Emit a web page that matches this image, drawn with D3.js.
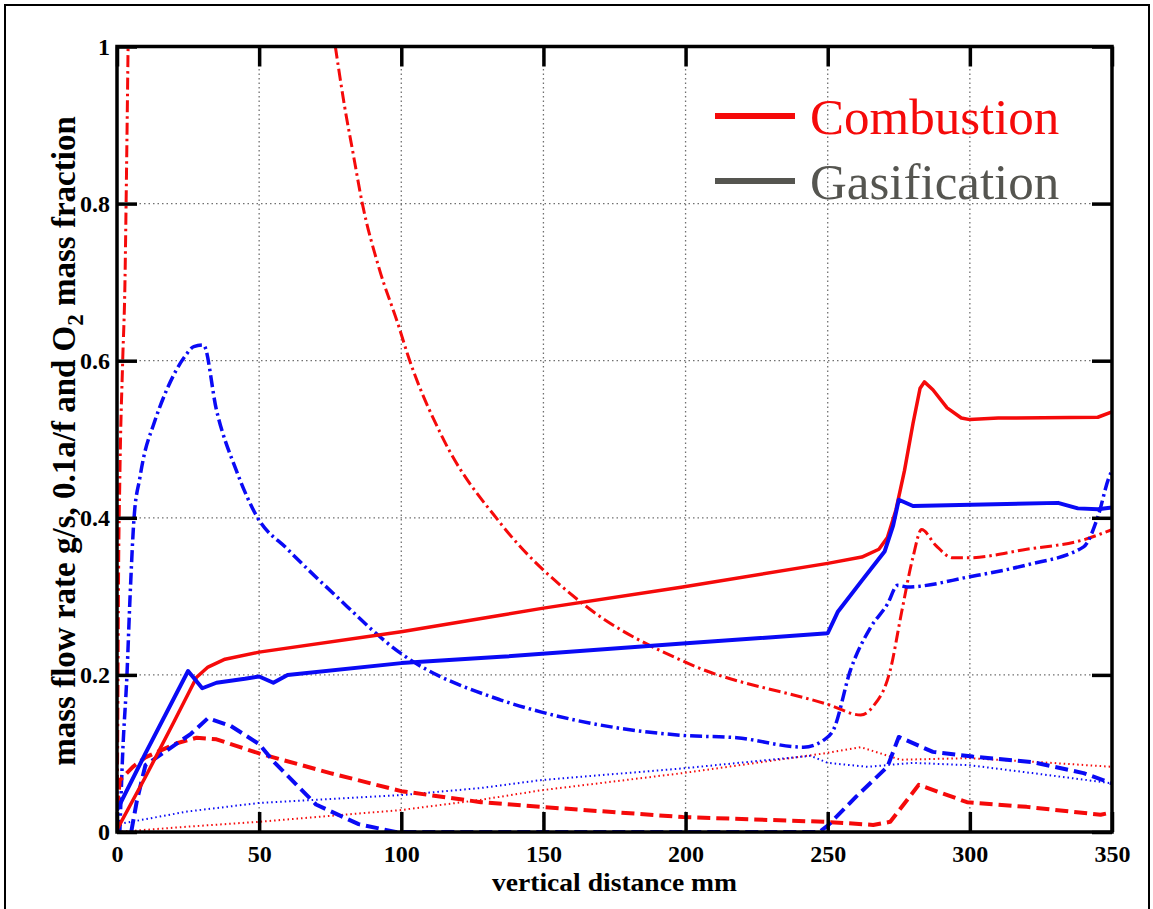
<!DOCTYPE html>
<meta charset="utf-8">
<style>
body { margin: 0; background: #fff; }
.tick text { font-family: "Liberation Serif", "Times New Roman", serif; font-weight: bold; font-size: 24px; fill: #000; }
.grid line { stroke: #707070; stroke-width: 1.3; stroke-dasharray: 1.5,3; }
</style>
<body>
<svg width="1153" height="909"></svg>
<script src="https://d3js.org/d3.v7.min.js"></script>
<script>
// x ticks / y ticks
var xTicks = [0, 50, 100, 150, 200, 250, 300, 350];
var yTicks = [0, 0.2, 0.4, 0.6, 0.8, 1];

// combustion (red) series, [distance mm, value]
var combSolid = [[0,0.003],[10,0.07],[20,0.14],[28,0.197],[32,0.21],[38,0.22],[50,0.229],[100,0.255],[135,0.276],[150,0.285],[199,0.312],[250,0.342],[262,0.35],[268,0.36],[271,0.375],[274,0.41],[277,0.46],[280,0.52],[282.5,0.565],[284,0.573],[287,0.563],[292,0.54],[297,0.527],[300,0.525],[310,0.527],[345,0.528],[350,0.535]];
var combDash = [[0,0.03],[1,0.066],[5.6,0.083],[10,0.095],[21,0.113],[28,0.12],[35,0.118],[50,0.1],[75,0.075],[100,0.052],[128,0.038],[149,0.032],[199,0.019],[249,0.013],[266,0.009],[272,0.013],[282,0.06],[299,0.038],[320,0.032],[346,0.022],[350,0.025]];
var combDashDot = [[0,0],[0.3,0.15],[0.5,0.3],[1,0.45],[2,0.6],[2.8,0.7],[3.2,0.8],[3.9,1.0],null,[76.8,1.0],[80,0.925],[83,0.865],[86.3,0.8],[92,0.72],[99,0.645],[102.5,0.605],[114.4,0.503],[134.9,0.393],[163,0.293],[200.7,0.215],[250.4,0.162],[261.6,0.149],[266,0.16],[272,0.206],[276,0.28],[280,0.35],[283,0.385],[288,0.365],[294,0.349],[299,0.349],[320,0.36],[340,0.372],[350,0.385]];
var combDot = [[0,0],[25.7,0.007],[50,0.013],[100,0.028],[128,0.041],[149,0.053],[199,0.075],[248.6,0.1],[261.6,0.108],[275.6,0.092],[299,0.094],[320,0.09],[350,0.083]];

// gasification (blue) series
var gasSolid = [[0,0.028],[10,0.1],[25,0.205],[30,0.183],[35,0.19],[45,0.195],[50,0.198],[55,0.19],[60,0.2],[100,0.215],[135,0.223],[199,0.24],[250,0.253],[253.5,0.28],[262,0.32],[270,0.357],[273,0.39],[275,0.423],[280,0.415],[331,0.419],[338,0.412],[345,0.411],[350,0.413]];
var gasDash = [[5,0],[7,0.04],[10,0.085],[20,0.11],[26,0.125],[32,0.145],[40,0.135],[50,0.112],[55,0.09],[70,0.035],[85,0.01],[98,0],[247,0],[250,0.008],[260,0.045],[271,0.083],[275,0.121],[287,0.102],[301,0.096],[322,0.089],[340,0.075],[350,0.062]];
var gasDashDot = [[1,0],[2,0.1],[3.5,0.2],[4.6,0.3],[6,0.4],[8,0.45],[9.2,0.474],[13,0.52],[17.5,0.563],[24,0.606],[27,0.618],[30.4,0.62],[35,0.537],[42,0.46],[49.3,0.401],[60,0.36],[76,0.304],[99.6,0.228],[135,0.168],[149,0.153],[199,0.123],[218,0.12],[241.5,0.108],[248.6,0.117],[252,0.13],[258,0.206],[265,0.26],[271,0.29],[274.6,0.314],[278,0.312],[300,0.325],[320,0.34],[340,0.363],[345,0.401],[349,0.452],[350,0.46]];
var gasDot = [[0,0.005],[2,0.011],[24.6,0.026],[50,0.037],[100,0.047],[128,0.056],[149,0.066],[199,0.081],[244,0.097],[250,0.088],[264,0.083],[280,0.088],[300,0.085],[322,0.075],[350,0.062]];

var legendNames = ["Combustion", "Gasification"];

var svg = d3.select("svg");
var pLeft = 117, pRight = 1112, pTop = 46.5, pBottom = 832;

var x = d3.scaleLinear().domain([0, 350]).range([pLeft, pRight]);
var y = d3.scaleLinear().domain([0, 1]).range([pBottom, pTop]);

// outer frame
svg.append("path")
    .attr("d", "M5,915 L5,5 L1149,5 L1149,915")
    .attr("fill", "none").attr("stroke", "#000").attr("stroke-width", 2);

svg.append("clipPath").attr("id", "clip")
  .append("rect").attr("x", pLeft).attr("y", pTop).attr("width", pRight - pLeft).attr("height", pBottom - pTop);

// grid
var grid = svg.append("g").attr("class", "grid");
grid.selectAll(".gx").data(xTicks.slice(1, -1)).enter().append("line")
    .attr("x1", d => x(d)).attr("x2", d => x(d)).attr("y1", pTop).attr("y2", pBottom);
grid.selectAll(".gy").data(yTicks.slice(1, -1)).enter().append("line")
    .attr("y1", d => y(d)).attr("y2", d => y(d)).attr("x1", pLeft).attr("x2", pRight);

// curves
var red = "#f50a0a", blue = "#0a0af5";
var series = [
  {data: combDot, color: red, w: 2, dash: "1.5,3", smooth: false},
  {data: gasDot, color: blue, w: 2, dash: "1.5,3", smooth: false},
  {data: combDashDot, color: red, w: 3, dash: "12,4,2.5,4", smooth: true},
  {data: gasDashDot, color: blue, w: 3.5, dash: "12,4,2.5,4", smooth: true},
  {data: combDash, color: red, w: 4, dash: "13,6", smooth: false},
  {data: gasDash, color: blue, w: 4, dash: "13,6", smooth: false},
  {data: combSolid, color: red, w: 3.5, dash: null, smooth: false},
  {data: gasSolid, color: blue, w: 4, dash: null, smooth: false}
];
function pathFor(s) {
  var l = d3.line().defined(d => d !== null).x(d => x(d[0])).y(d => y(d[1]));
  if (s.smooth) l.curve(d3.curveMonotoneX);
  return l(s.data);
}
var plot = svg.append("g").attr("clip-path", "url(#clip)");
plot.selectAll("path").data(series).enter().append("path")
    .attr("d", pathFor)
    .attr("fill", "none")
    .attr("stroke", d => d.color)
    .attr("stroke-width", d => d.w)
    .attr("stroke-dasharray", d => d.dash)
    .attr("stroke-linejoin", "round");

// axes (ticks pointing inward, mirrored)
var tl = 20;
svg.append("g").attr("transform", "translate(0," + pBottom + ")")
    .call(d3.axisBottom(x).tickValues(xTicks).tickSizeInner(-tl).tickSizeOuter(0).tickFormat(d3.format("d")))
    .call(g => g.selectAll("text").attr("y", 8).attr("dy", "0.9em"));
svg.append("g").attr("transform", "translate(0," + pTop + ")")
    .call(d3.axisTop(x).tickValues(xTicks).tickSizeInner(-tl).tickSizeOuter(0).tickFormat(""));
svg.append("g").attr("transform", "translate(" + pLeft + ",0)")
    .call(d3.axisLeft(y).tickValues(yTicks).tickSizeInner(-tl).tickSizeOuter(0).tickFormat(d => d === 0 || d === 1 ? d : d3.format(".1f")(d)))
    .call(g => g.selectAll("text").attr("x", -7));
svg.append("g").attr("transform", "translate(" + pRight + ",0)")
    .call(d3.axisRight(y).tickValues(yTicks).tickSizeInner(-tl).tickSizeOuter(0).tickFormat(""));
svg.selectAll(".domain").remove();
svg.selectAll(".tick line").attr("stroke", "#000").attr("stroke-width", 3.5);

// box
svg.append("rect").attr("x", pLeft).attr("y", pTop).attr("width", pRight - pLeft).attr("height", pBottom - pTop)
    .attr("fill", "none").attr("stroke", "#000").attr("stroke-width", 3.5);

// axis labels
svg.append("text")
    .attr("x", (pLeft + pRight) / 2).attr("y", 891)
    .attr("text-anchor", "middle")
    .attr("textLength", 245).attr("lengthAdjust", "spacingAndGlyphs")
    .style("font-family", "Liberation Serif, serif").style("font-weight", "bold").style("font-size", "26px")
    .text("vertical distance mm");

var yl = svg.append("text")
    .attr("transform", "translate(75,441) rotate(-90)")
    .attr("text-anchor", "middle")
    .style("font-family", "Liberation Serif, serif").style("font-weight", "bold").style("font-size", "33px");
yl.append("tspan").text("mass flow rate g/s, 0.1a/f and O");
yl.append("tspan").attr("dy", 8).style("font-size", "23px").text("2");
yl.append("tspan").attr("dy", -8).text(" mass fraction");

// legend
var legColors = [red, "#555550"];
var leg = svg.append("g").selectAll("g").data(legendNames).enter().append("g")
    .attr("transform", (d, i) => "translate(0," + (116 + i * 65) + ")");
leg.append("line").attr("x1", 715).attr("x2", 795).attr("y1", 0).attr("y2", 0)
    .attr("stroke", (d, i) => legColors[i]).attr("stroke-width", 6);
leg.append("text").attr("x", 810).attr("y", 18)
    .attr("fill", (d, i) => legColors[i])
    .style("font-family", "Liberation Serif, serif").style("font-size", "51px")
    .text(d => d);
</script>
</body>
